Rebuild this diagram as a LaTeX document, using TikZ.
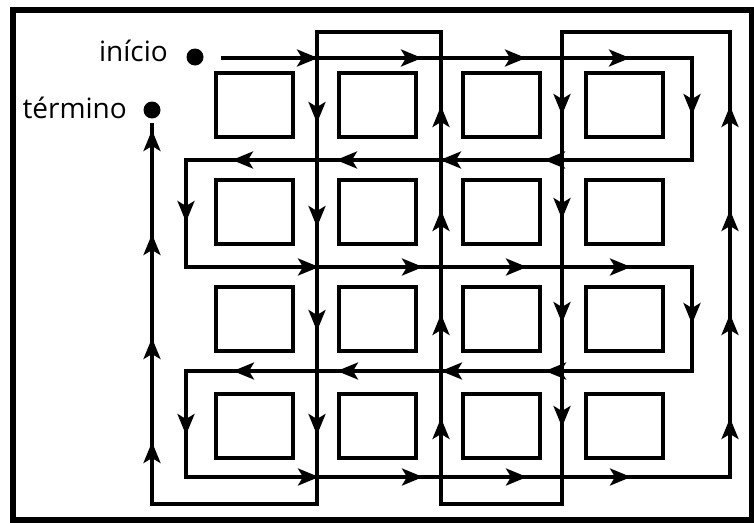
\documentclass[tikz,border=0pt]{standalone}
\usepackage{fontspec}
\setmainfont{Open Sans}
\usetikzlibrary{arrows.meta,decorations.markings}
\begin{document}
\begin{tikzpicture}[
        x=1pt, y=-1pt,
        box/.style={draw, line width=4pt, minimum width=77pt, minimum height=64pt, inner sep=0pt},
        route/.style={line width=3.3pt, line cap=rect},
        heads/.style={postaction={decorate}, decoration={markings,
            mark=between positions #1 and 1 step 104pt with {\arrow{Stealth[length=21pt,width=17pt,inset=5pt]}}}},
        spot/.style={circle, fill, minimum size=17pt, inner sep=0pt},
        lbl/.style={font=\fontsize{28}{32}\selectfont, inner sep=0pt, anchor=base east}
    ]
    \useasboundingbox (0,0) rectangle (754,522);
    \draw[line width=5.5pt] (13,10) rectangle (752,520);

    % The Grid
    \foreach \c in {1,...,4}
        \foreach \l in {1,...,4}
            \node[box] (q\l\c) at ({254+123.5*(\c-1)},{105+107*(\l-1)}) {};

    % Start and End
    \node[spot] (ini) at (195,57) {}; \node[lbl] (tini) at (168,61) {início};
    \node[spot] (fim) at (152,110) {}; \node[lbl] (tfim) at (127,118) {término};

    % The Route
    \coordinate (r0) at (223,58);  \coordinate (r1) at (692,58);
    \coordinate (r2) at (692,160); \coordinate (r3) at (186,160);
    \coordinate (r4) at (186,267); \coordinate (r5) at (692,267);
    \coordinate (r6) at (692,371); \coordinate (r7) at (186,371);
    \coordinate (r8) at (186,477); \coordinate (r9) at (730,477);
    \coordinate (r10) at (730,32); \coordinate (r11) at (562,32);
    \coordinate (r12) at (562,504); \coordinate (r13) at (441,504);
    \coordinate (r14) at (441,32); \coordinate (r15) at (317,32);
    \coordinate (r16) at (317,504); \coordinate (r17) at (152,504);
    \coordinate (r18) at (152,125);

    \foreach \a/\b/\f in {r0/r1/95pt, r1/r2/57pt, r2/r3/148pt, r3/r4/62pt, r4/r5/133pt,
            r5/r6/57pt, r6/r7/147pt, r7/r8/64pt, r8/r9/133pt, r9/r10/59pt,
            r11/r12/83pt, r13/r14/86pt, r15/r16/91pt, r17/r18/62pt}
        \draw[route, heads=\f] (\a) -- (\b);
    \draw[route] (r10) -- (r11) (r12) -- (r13) (r14) -- (r15) (r16) -- (r17);

\end{tikzpicture}
\end{document}
